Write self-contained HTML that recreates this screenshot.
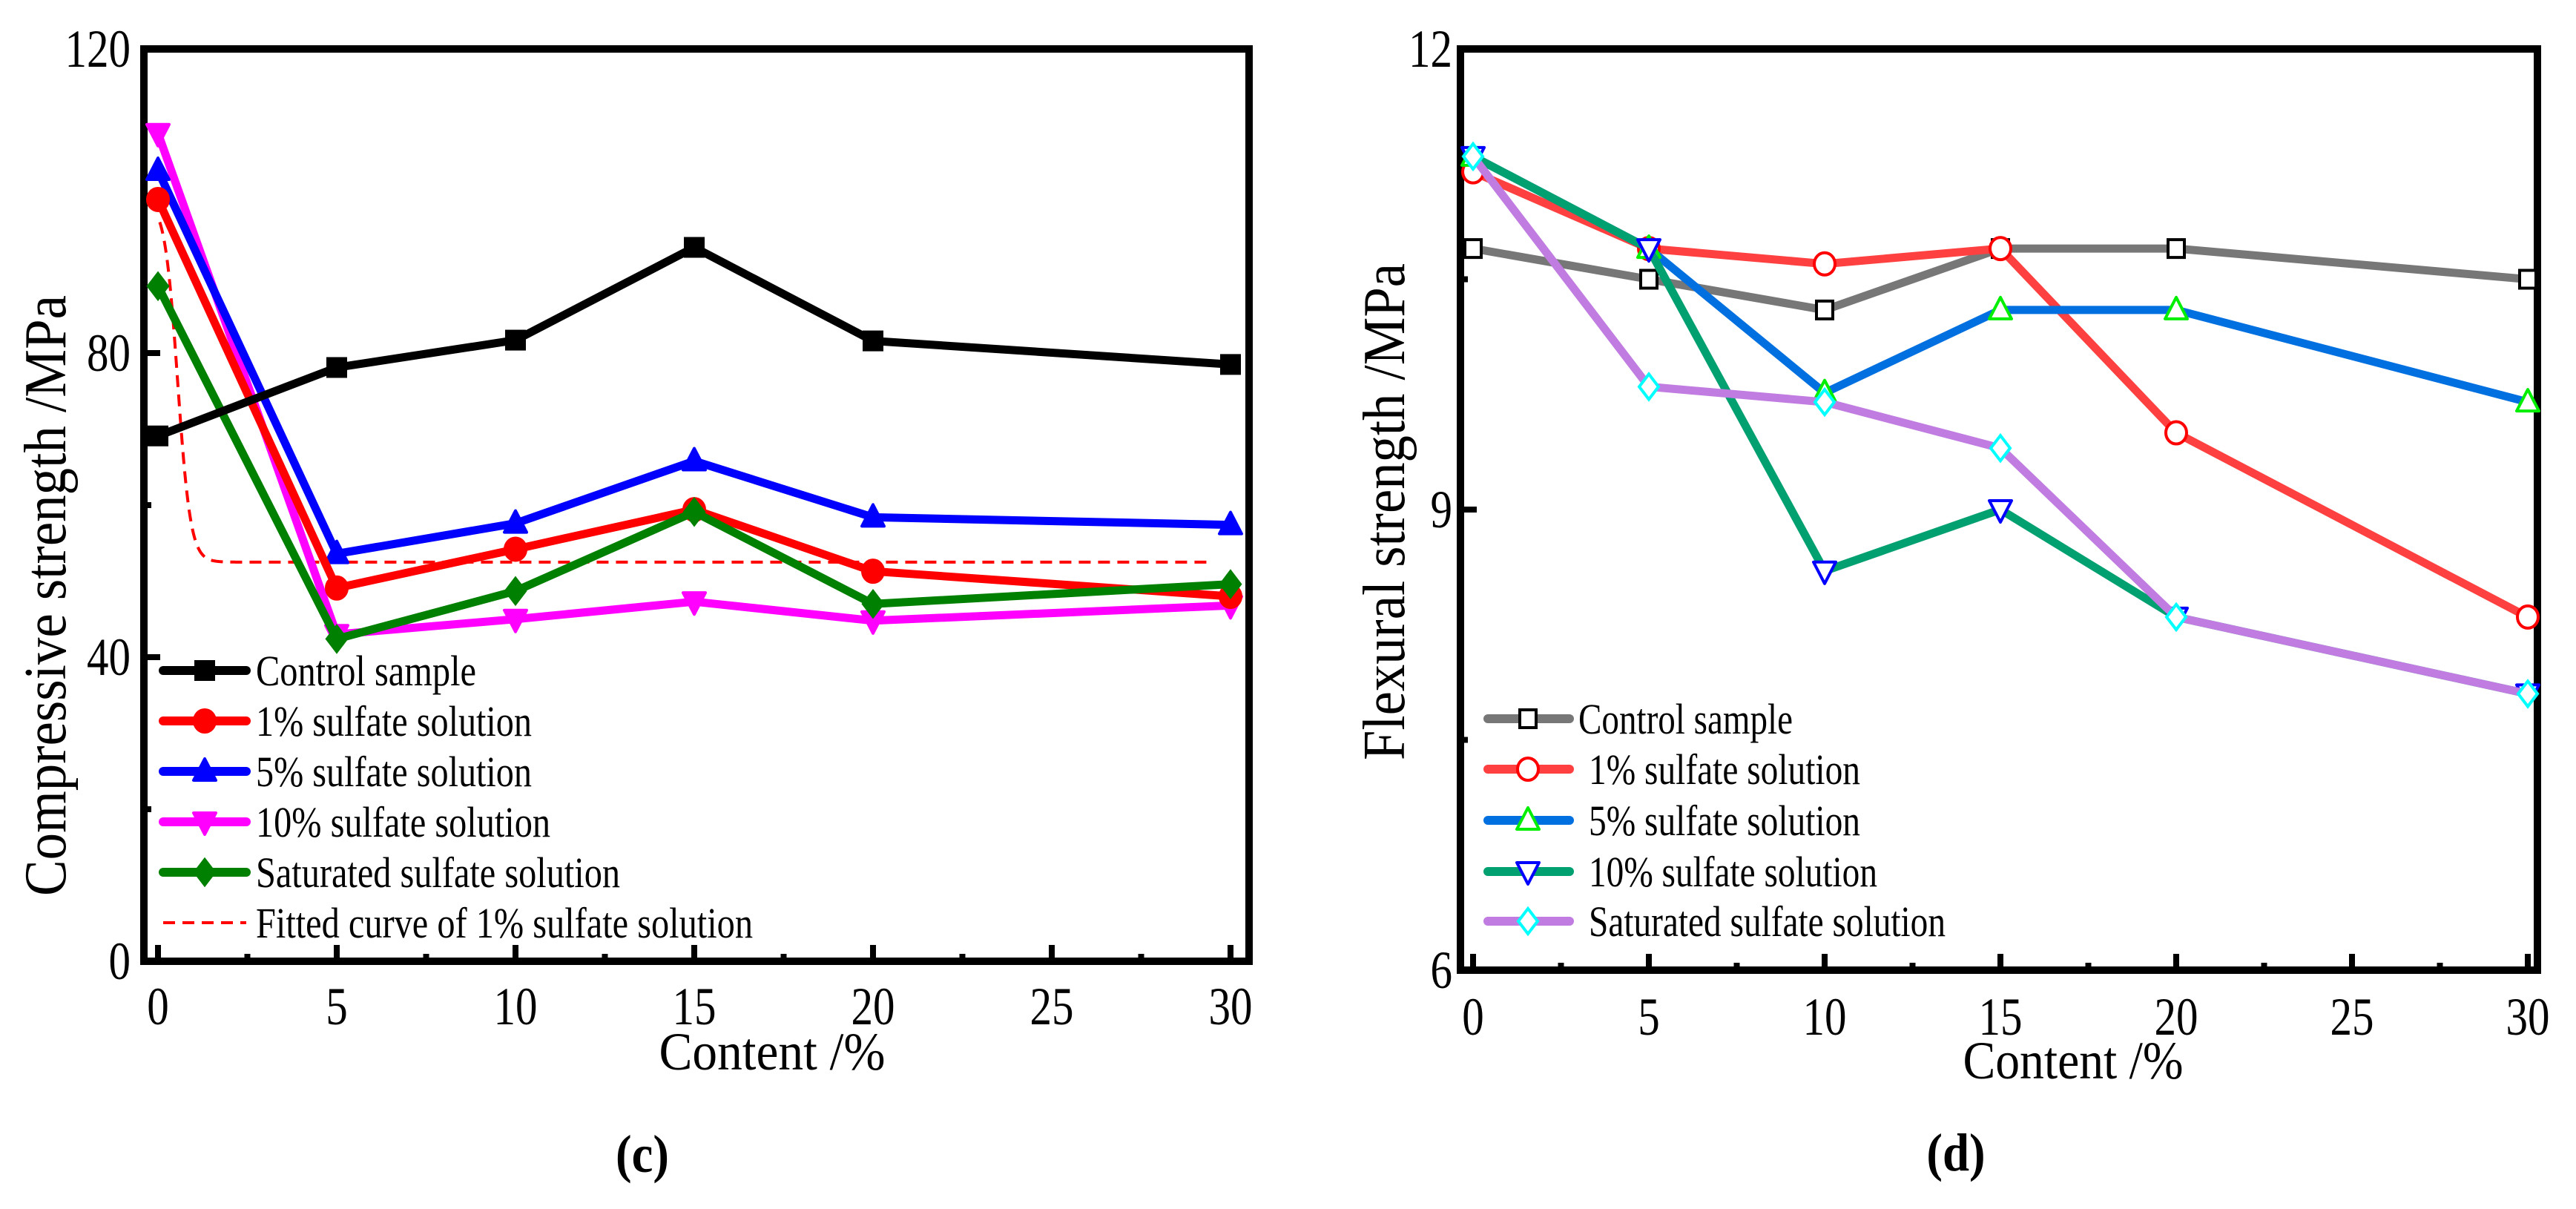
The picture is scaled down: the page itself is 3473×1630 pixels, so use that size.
<!DOCTYPE html>
<html><head><meta charset="utf-8">
<style>
html,body{margin:0;padding:0;background:#fff;}
svg{display:block;}
text{font-family:"Liberation Serif",serif;fill:#000;}
</style></head>
<body>
<svg id="fig" width="3473" height="1630" viewBox="0 0 3473 1630" xmlns="http://www.w3.org/2000/svg">
<g id="L"></g>
<g id="R"></g>
</svg>
<script>
// ---------- data: chart (c) ----------
const cX = [0, 5, 10, 15, 20, 30];
const cControl = [69.1, 78.1, 81.7, 93.9, 81.6, 78.5];
const c1 = [100.2, 49.1, 54.2, 59.4, 51.3, 48.0];
const c5 = [104.0, 53.6, 57.6, 65.8, 58.4, 57.4];
const c10 = [108.9, 43.0, 45.0, 47.3, 44.8, 46.8];
const cSat = [88.8, 42.4, 48.7, 59.1, 47.0, 49.6];
const cFitBase = 52.5;
const cFitAmp = 47.5;
const cXTicks = [0, 5, 10, 15, 20, 25, 30];
const cYTicks = [0, 40, 80, 120];
// ---------- data: chart (d) ----------
const dX = [0, 5, 10, 15, 20, 30];
const dControl = [10.7, 10.5, 10.3, 10.7, 10.7, 10.5];
const d1 = [11.2, 10.7, 10.6, 10.7, 9.5, 8.3];
const d5 = [11.3, 10.7, 9.76, 10.3, 10.3, 9.7];
const d10 = [11.3, 10.7, 8.6, 9.0, 8.3, 7.8];
const dSat = [11.3, 9.8, 9.7, 9.4, 8.3, 7.8];
const dXTicks = [0, 5, 10, 15, 20, 25, 30];
const dYTicks = [6, 9, 12];

const NS = "http://www.w3.org/2000/svg";
function el(parent, tag, attrs) {
  const e = document.createElementNS(NS, tag);
  for (const k in attrs) e.setAttribute(k, attrs[k]);
  parent.appendChild(e);
  return e;
}
function txt(parent, x, y, s, size, anchor, sx, len) {
  const t = el(parent, "text", {x: 0, y: 0, "font-size": size, "text-anchor": anchor || "start",
    transform: "translate(" + x + "," + y + ") scale(" + (sx || 1) + ",1)"});
  if (len) { t.setAttribute("textLength", len); t.setAttribute("lengthAdjust", "spacingAndGlyphs"); }
  t.textContent = s;
  return t;
}
function marker(g, type, x, y, fill, stroke) {
  let m;
  if (type === "square") m = el(g, "rect", {x: x - 12, y: y - 12, width: 24, height: 24, fill: fill, stroke: stroke, "stroke-width": 4});
  else if (type === "hsquare") m = el(g, "rect", {x: x - 11, y: y - 12, width: 22, height: 24, fill: fill, stroke: stroke, "stroke-width": 4});
  else if (type === "circle") m = el(g, "ellipse", {cx: x, cy: y, rx: 14, ry: 15, fill: fill, stroke: stroke, "stroke-width": 4});
  else if (type === "up") m = el(g, "polygon", {points: (x) + "," + (y - 17) + " " + (x - 15) + "," + (y + 12) + " " + (x + 15) + "," + (y + 12), fill: fill, stroke: stroke, "stroke-width": 4, "stroke-linejoin": "round"});
  else if (type === "down") m = el(g, "polygon", {points: (x) + "," + (y + 17) + " " + (x - 15) + "," + (y - 12) + " " + (x + 15) + "," + (y - 12), fill: fill, stroke: stroke, "stroke-width": 4, "stroke-linejoin": "round"});
  else if (type === "diamond") m = el(g, "polygon", {points: x + "," + (y - 17) + " " + (x + 13) + "," + y + " " + x + "," + (y + 17) + " " + (x - 13) + "," + y, fill: fill, stroke: stroke, "stroke-width": 4});
  
  
  return m;
}
function drawSeries(g, xs, ys, sx, sy, color, mtype, mfill, mstroke, name) {
  const sg = el(g, "g", {});
  
  
  const pts = xs.map((x, i) => sx(x) + "," + sy(ys[i])).join(" ");
  const pl = el(sg, "polyline", {points: pts, fill: "none", stroke: color, "stroke-width": 11, "stroke-linejoin": "round", "stroke-linecap": "round"});
  
  
  xs.forEach((x, i) => marker(sg, mtype, sx(x), sy(ys[i]), mfill, mstroke));
}
function frame(g, x0, y0, x1, y1) {
  const r = el(g, "rect", {x: x0, y: y0, width: x1 - x0, height: y1 - y0, fill: "none", stroke: "#000", "stroke-width": 10});
  
  
}
function legendRow(g, x0, x1, xm, y, color, mtype, mfill, mstroke, label, tx, len) {
  const lg = el(g, "g", {});
  
  
  el(lg, "line", {x1: x0, y1: y, x2: x1, y2: y, stroke: color, "stroke-width": 12, "stroke-linecap": "round"});
  marker(lg, mtype, xm, y, mfill, mstroke);
  txt(lg, tx, y + 20, label, 58, "start", 1, len);
}

// ================= Chart (c) =================
(function () {
  const g = document.getElementById("L");
  const sx = v => 213 + v * 48.2;
  const sy = v => 1296 - v * 10.25;
  frame(g, 194, 66, 1684, 1296);
  const ax = el(g, "g", {});
  
  
  for (let v = 0; v <= 30; v += 2.5) {
    const major = v % 5 === 0;
    el(ax, "line", {x1: sx(v), y1: 1296, x2: sx(v), y2: 1296 - (major ? 22 : 10), stroke: "#000", "stroke-width": 8});
  }
  cXTicks.forEach(v => {
    const t = txt(ax, sx(v), 1381, String(v), 72, "middle", 0.82);
    
    
  });
  const ay = el(g, "g", {});
  
  
  for (let v = 20; v < 120; v += 20) {
    const major = v % 40 === 0;
    el(ay, "line", {x1: 194, y1: sy(v), x2: 194 + (major ? 22 : 10), y2: sy(v), stroke: "#000", "stroke-width": 8});
  }
  cYTicks.forEach(v => {
    const t = txt(ay, 176, sy(v) + 24, String(v), 72, "end", 0.82);
    
    
  });
  const yt = txt(g, 0, 0, "Compressive strength /MPa", 80, "middle", 1, 810);
  yt.setAttribute("transform", "translate(88,803) rotate(-90)");
  
  
  const xt = txt(g, 1041, 1442, "Content  /%", 72, "middle", 1, 305);
  
  
  const cap = txt(g, 866, 1580, "(c)", 72, "middle", 0.9);
  cap.setAttribute("font-weight", "bold");
  
  

  // fitted curve
  const fp = [];
  for (let x = 0.05; x <= 30.001; x += (x < 3 ? 0.02 : 0.5)) {
    const y = cFitBase + cFitAmp / (1 + Math.exp((x - 0.55) / 0.18));
    fp.push(sx(x) + "," + sy(y));
  }
  const fit = el(g, "polyline", {points: fp.join(" "), fill: "none", stroke: "#ff0000", "stroke-width": 4, "stroke-dasharray": "16,10"});
  
  

  drawSeries(g, cX, c10, sx, sy, "#ff00ff", "down", "#ff00ff", "#ff00ff", "series-10pct");
  drawSeries(g, cX, c5, sx, sy, "#0000ff", "up", "#0000ff", "#0000ff", "series-5pct");
  drawSeries(g, cX, c1, sx, sy, "#ff0000", "circle", "#ff0000", "#ff0000", "series-1pct");
  drawSeries(g, cX, cSat, sx, sy, "#008000", "diamond", "#008000", "#008000", "series-saturated");
  drawSeries(g, cX, cControl, sx, sy, "#000000", "square", "#000", "#000", "series-control");

  const lg = el(g, "g", {});
  
  
  legendRow(lg, 220, 332, 276, 904, "#000", "square", "#000", "#000", "Control sample", 345, 297);
  legendRow(lg, 220, 332, 276, 972, "#ff0000", "circle", "#ff0000", "#ff0000", "1% sulfate solution", 345, 372);
  legendRow(lg, 220, 332, 276, 1040, "#0000ff", "up", "#0000ff", "#0000ff", "5% sulfate solution", 345, 372);
  legendRow(lg, 220, 332, 276, 1108, "#ff00ff", "down", "#ff00ff", "#ff00ff", "10% sulfate solution", 345, 397);
  legendRow(lg, 220, 332, 276, 1176, "#008000", "diamond", "#008000", "#008000", "Saturated sulfate solution", 345, 491);
  const fl = el(lg, "line", {x1: 220, y1: 1244, x2: 332, y2: 1244, stroke: "#ff0000", "stroke-width": 4, "stroke-dasharray": "16,10"});
  
  
  const ft = txt(lg, 345, 1264, "Fitted curve of 1% sulfate solution", 58, "start", 1, 670);
  
  
})();

// ================= Chart (d) =================
(function () {
  const g = document.getElementById("R");
  const sx = v => 1986 + v * 47.4;
  const sy = v => 1308 - (v - 6) * 207;
  frame(g, 1969, 66, 3421, 1308);
  const ax = el(g, "g", {});
  
  
  for (let v = 0; v <= 30; v += 2.5) {
    const major = v % 5 === 0;
    el(ax, "line", {x1: sx(v), y1: 1308, x2: sx(v), y2: 1308 - (major ? 22 : 10), stroke: "#000", "stroke-width": 8});
  }
  dXTicks.forEach(v => {
    const t = txt(ax, sx(v), 1395, String(v), 72, "middle", 0.82);
    
    
  });
  const ay = el(g, "g", {});
  
  
  for (let v = 7.5; v < 12; v += 1.5) {
    const major = v % 3 === 0;
    el(ay, "line", {x1: 1969, y1: sy(v), x2: 1969 + (major ? 22 : 10), y2: sy(v), stroke: "#000", "stroke-width": 8});
  }
  dYTicks.forEach(v => {
    const t = txt(ay, 1958, sy(v) + 24, String(v), 72, "end", 0.82);
    
    
  });
  const yt = txt(g, 0, 0, "Flexural strength /MPa", 80, "middle", 1, 670);
  yt.setAttribute("transform", "translate(1893,690) rotate(-90)");
  
  
  const xt = txt(g, 2795, 1454, "Content  /%", 72, "middle", 1, 297);
  
  
  const cap = txt(g, 2637, 1578, "(d)", 72, "middle", 0.9);
  cap.setAttribute("font-weight", "bold");
  
  

  drawSeries(g, dX, dControl, sx, sy, "#777777", "hsquare", "#fff", "#000", "series-control");
  drawSeries(g, dX, d1, sx, sy, "#ff4040", "circle", "#fff", "#ff0000", "series-1pct");
  drawSeries(g, dX, d5, sx, sy, "#0070e0", "up", "#fff", "#00ee00", "series-5pct");
  drawSeries(g, dX, d10, sx, sy, "#00a070", "down", "#fff", "#0000ff", "series-10pct");
  drawSeries(g, dX, dSat, sx, sy, "#c07ce0", "diamond", "#fff", "#00ffff", "series-saturated");

  const lg = el(g, "g", {});
  
  
  legendRow(lg, 2006, 2116, 2060, 969, "#777777", "hsquare", "#fff", "#000", "Control sample", 2128, 289);
  legendRow(lg, 2006, 2116, 2060, 1037, "#ff4040", "circle", "#fff", "#ff0000", "1% sulfate solution", 2142, 366);
  legendRow(lg, 2006, 2116, 2060, 1106, "#0070e0", "up", "#fff", "#00ee00", "5% sulfate solution", 2142, 366);
  legendRow(lg, 2006, 2116, 2060, 1175, "#00a070", "down", "#fff", "#0000ff", "10% sulfate solution", 2142, 389);
  legendRow(lg, 2006, 2116, 2060, 1242, "#c07ce0", "diamond", "#fff", "#00ffff", "Saturated sulfate solution", 2142, 481);
})();
</script>
</body></html>
